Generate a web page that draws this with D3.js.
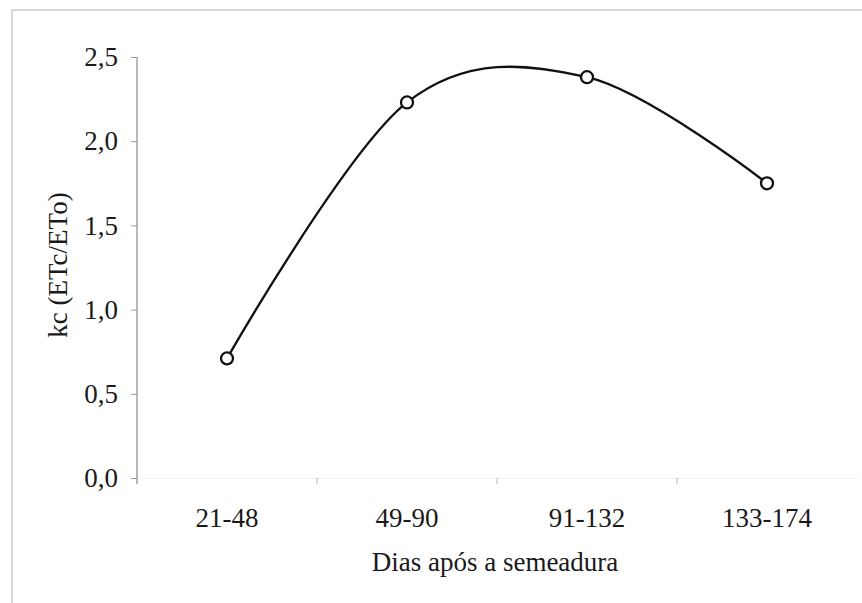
<!DOCTYPE html>
<html>
<head>
<meta charset="utf-8">
<script src="https://cdn.jsdelivr.net/npm/d3@7"></script>
<style>
  html, body { margin: 0; padding: 0; background: #fff; }
  svg { display: block; }
  text { font-family: "Liberation Serif", "Times New Roman", serif; fill: #1a1a1a; }
</style>
</head>
<body>
<svg id="chart" width="862" height="603"></svg>
<script>
const categories = ["21-48", "49-90", "91-132", "133-174"];
const kcValues = [0.71, 2.23, 2.38, 1.75];
const yTicks = [0, 0.5, 1.0, 1.5, 2.0, 2.5];
const xTitle = "Dias após a semeadura";
const yTitle = "kc (ETc/ETo)";

(function () {
const svg = d3.select("#chart");
const mLeft = 137, mRight = 857, mTop = 57, mBottom = 478;
const FS = 27;

// outer frame
svg.append("rect")
  .attr("x", 12).attr("y", 10).attr("width", 880).attr("height", 620)
  .attr("fill", "none").attr("stroke", "#b0b0b0").attr("stroke-width", 1);

const x = d3.scaleBand().domain(categories).range([mLeft, mRight]).paddingInner(0).paddingOuter(0);
const y = d3.scaleLinear().domain([0, 2.5]).range([mBottom, mTop]);

const fmt = d => d.toFixed(1).replace(".", ",");

// Y axis
const yAxis = svg.append("g").attr("transform", `translate(${mLeft},0)`)
  .call(d3.axisLeft(y).tickValues(yTicks).tickFormat(fmt).tickSize(6).tickSizeOuter(0).tickPadding(13));
yAxis.select(".domain").attr("stroke", "#8a8a8a").attr("stroke-width", 1.2)
  .attr("d", `M0,${y(2.5)}V${y(0) + 6}`);
yAxis.selectAll(".tick line").attr("stroke", "#9a9a9a");
yAxis.selectAll(".tick text").attr("font-size", FS).attr("font-family", "Liberation Serif").attr("fill", "#1a1a1a");

// X axis (very faint line)
const xAxis = svg.append("g").attr("transform", `translate(0,${mBottom})`)
  .call(d3.axisBottom(x).tickSize(0).tickPadding(30));
xAxis.select(".domain").attr("stroke", "#f0f0f0").attr("stroke-width", 1);
xAxis.selectAll(".tick text").attr("font-size", FS).attr("font-family", "Liberation Serif").attr("fill", "#1a1a1a");
// category boundary ticks
const bounds = categories.slice(1).map(c => x(c));
xAxis.selectAll(".btick").data(bounds).enter().append("line")
  .attr("class", "btick")
  .attr("x1", d => d).attr("x2", d => d)
  .attr("y1", 0).attr("y2", 6)
  .attr("stroke", "#b5b5b5").attr("stroke-width", 1);

// axis titles
svg.append("text")
  .attr("x", (mLeft + mRight) / 2 - 2).attr("y", 571)
  .attr("text-anchor", "middle").attr("font-size", FS)
  .text(xTitle);
svg.append("text")
  .attr("transform", "translate(67,265) rotate(-90)")
  .attr("text-anchor", "middle").attr("font-size", FS)
  .text(yTitle);

// data
const pts = categories.map((c, i) => [x(c) + x.bandwidth() / 2, y(kcValues[i])]);
const line = d3.line().curve(d3.curveCardinal.tension(0));
svg.append("path")
  .attr("d", line(pts))
  .attr("fill", "none").attr("stroke", "#111").attr("stroke-width", 2.3);

svg.selectAll("circle.pt").data(pts).enter().append("circle")
  .attr("class", "pt")
  .attr("cx", d => d[0]).attr("cy", d => d[1]).attr("r", 6)
  .attr("fill", "#fff").attr("stroke", "#111").attr("stroke-width", 2.3);
})();
</script>
</body>
</html>
